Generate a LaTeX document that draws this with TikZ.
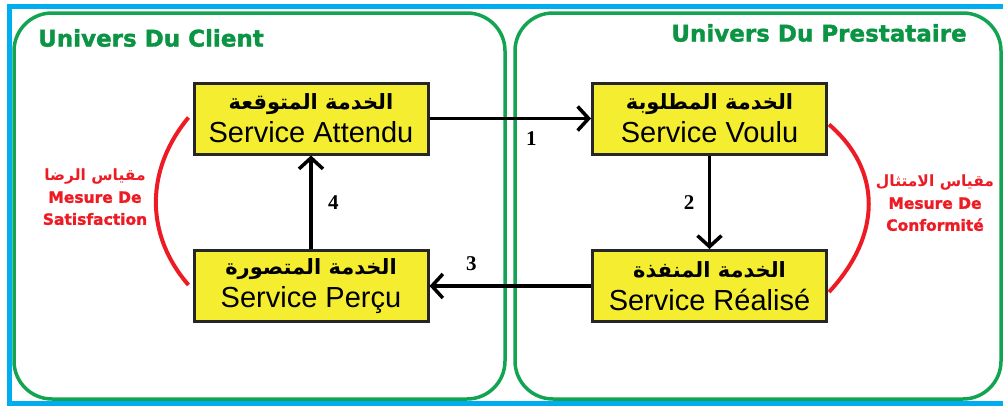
\documentclass[tikz,border=0pt]{standalone}
\usepackage{fontspec}
\setmainfont{Liberation Sans}
\newfontfamily\arabicfont[Script=Arabic]{DejaVu Sans}
\newfontfamily\titlefont[BoldFeatures={FakeBold=1.5}]{DejaVu Sans}
\newfontfamily\numfont{Liberation Serif}
\TeXXeTstate=1
\usetikzlibrary{positioning,arrows.meta}
\definecolor{frameblue}{HTML}{00AEEF}
\definecolor{univgreen}{HTML}{13A452}
\definecolor{titlegreen}{HTML}{0B9444}
\definecolor{boxyellow}{HTML}{F5EE30}
\definecolor{mesred}{HTML}{ED1C24}

\begin{document}
\begin{tikzpicture}[x=1pt, y=-1pt,
    univers/.style = { draw = univgreen, line width = 3.5pt, rounded corners = 38pt },
    service/.style = { draw = black!85, fill = boxyellow, line width = 3pt,
                       minimum width = 234pt, minimum height = 71pt, inner sep = 0pt,
                       align = center, font = \fontsize{29}{33}\selectfont },
    flow/.style = { line width = 3.5pt, -{Straight Barb[length=11pt, width=24pt, line width=3.5pt]} },
    num/.style = { font = \numfont\bfseries\fontsize{21}{21}\selectfont },
    mesure/.style = { draw = mesred, line width = 4pt },
    mesuretext/.style = { text = mesred, align = center, font = \titlefont\bfseries\fontsize{15.5}{22}\selectfont },
    titre/.style = { text = titlegreen, font = \titlefont\bfseries\fontsize{23}{23}\selectfont }]

    \useasboundingbox (0,0) rectangle (1003,407);
    \draw [frameblue, line width = 5.5pt] (9.5,6.5) rectangle (1010,403.5);

    % les deux univers
    \draw [univers] (14,13) rectangle (505,399);
    \draw [univers] (515,13) rectangle (1001,399);
    \node [titre] (client) at (151,38) {Univers Du Client};
    \node [titre] (prest) at (819,33) {Univers Du Prestataire};

    % les quatre services
    \node [service] (attendu) at (311,118.5) {{\arabicfont\bfseries\fontsize{21}{21}\selectfont\beginR الخدمة المتوقعة\endR}\\ Service Attendu};
    \node [service] (voulu)   at (709.5,118.5) {{\arabicfont\bfseries\fontsize{21}{21}\selectfont\beginR الخدمة المطلوبة\endR}\\ Service Voulu};
    \node [service] (percu)   at (311,286) {{\arabicfont\bfseries\fontsize{21}{21}\selectfont\beginR الخدمة المتصورة\endR}\\ Service Perçu};
    \node [service] (realise) at (709.5,286) {{\arabicfont\bfseries\fontsize{21}{21}\selectfont\beginR الخدمة المنفذة\endR}\\ Service Réalisé};

    % le cycle
    \draw [flow] (attendu) -- node [num, pos = .63, below = 8pt] {1} (voulu);
    \draw [flow] (voulu) -- node [num, left = 10pt] {2} (realise);
    \draw [flow] (realise) -- node [num, pos = .74, above = 10pt] {3} (percu);
    \draw [flow] (percu) -- node [num, right = 12pt] {4} (attendu);

    % les mesures
    \draw [mesure] ([xshift=-4pt,yshift=1pt]attendu.west) .. controls (145,170) and (145,235) .. ([xshift=-4pt,yshift=1pt]percu.west);
    \draw [mesure] ([xshift=1pt,yshift=-6pt]voulu.east) .. controls (882,170) and (882,235) .. ([xshift=1pt,yshift=-6pt]realise.east);
    \node [mesuretext] (satisf) at (95,197) {{\arabicfont\beginR مقياس الرضا\endR}\\ Mesure De\\ Satisfaction};
    \node [mesuretext] (conform) at (935,203) {{\arabicfont\beginR مقياس الامتثال\endR}\\ Mesure De\\ Conformité};
\end{tikzpicture}
\end{document}
